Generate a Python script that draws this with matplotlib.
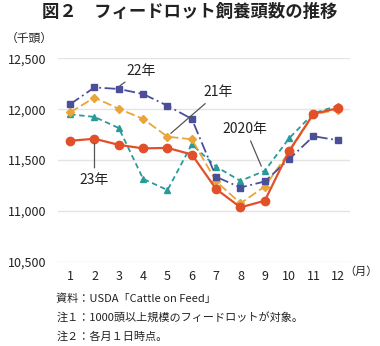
import matplotlib
matplotlib.use("Agg")
import matplotlib.pyplot as plt

plt.rcParams['font.family'] = ['Noto Sans CJK JP', 'DejaVu Sans']

months = list(range(1, 13))
y2020 = [11950, 11925, 11815, 11315, 11205, 11655, 11435, 11295, 11395, 11715, 11960, 12035]
y2021 = [11970, 12115, 12005, 11905, 11730, 11705, 11290, 11075, 11240, 11580, 11950, 11995]
y2022 = [12050, 12215, 12200, 12150, 12035, 11905, 11335, 11230, 11290, 11510, 11735, 11695]
y2023 = [11690, 11710, 11650, 11615, 11620, 11555, 11215, 11035, 11100, 11590, 11955, 12010]
yticks = [10500, 11000, 11500, 12000, 12500]

fig = plt.figure(figsize=(3.8, 3.46), dpi=100)
ax = fig.add_axes([0.1526, 0.2436, 0.7684, 0.5874])

ax.plot(months, y2020, color="#2a9a98", linestyle=(0, (3, 2)), marker="^",
        markersize=5, linewidth=1.3)
ax.plot(months, y2021, color="#e9a53a", linestyle=(0, (5, 2)), marker="D",
        markersize=4.5, linewidth=1.3)
ax.plot(months, y2022, color="#4b4f99", linestyle=(0, (6, 2, 1, 2)), marker="s",
        markersize=5, linewidth=1.3)
ax.plot(months, y2023, color="#e2502a", linestyle="-", marker="o",
        markersize=6, linewidth=1.6)

ax.set_xlim(0.5, 12.5)
ax.set_ylim(10500, 12500)
ax.set_xticks(months)
ax.set_yticks(yticks)
ax.set_yticklabels([f"{v:,}" for v in yticks])
ax.tick_params(length=0, labelsize=9, colors="#222222")
ax.tick_params(axis="y", pad=8)
ax.tick_params(axis="x", pad=6)
ax.grid(axis="y", color="#e4e4e4", linewidth=1)
ax.set_axisbelow(True)
for s in ax.spines.values():
    s.set_visible(False)

kw = dict(arrowprops=dict(arrowstyle="-", color="#555555", lw=0.9),
          fontsize=10, color="#222222")
ax.annotate("22年", xy=(2.95, 12215), xytext=(3.9, 12380),
            ha="center", va="center", **kw)
ax.annotate("21年", xy=(5.05, 11745), xytext=(7.1, 12170),
            ha="center", va="center", **kw)
ax.annotate("23年", xy=(2, 11690), xytext=(2, 11300),
            ha="center", va="center", **kw)
ax.annotate("2020年", xy=(8.9, 11415), xytext=(8.2, 11810),
            ha="center", va="center", **kw)

fig.text(0.5, 0.965, "図２　フィードロット飼養頭数の推移", ha="center", va="center",
         fontsize=12.5, fontweight="bold", color="#222222")
fig.text(0.015, 0.89, "（千頭）", ha="left", va="center", fontsize=8.5, color="#222222")
fig.text(0.995, 0.215, "（月）", ha="right", va="center", fontsize=8, color="#222222")
fig.text(0.148, 0.138, "資料：USDA「Cattle on Feed」", ha="left", va="center",
         fontsize=8, color="#222222")
fig.text(0.148, 0.082, "注１：1000頭以上規模のフィードロットが対象。", ha="left", va="center",
         fontsize=8, color="#222222")
fig.text(0.148, 0.028, "注２：各月１日時点。", ha="left", va="center",
         fontsize=8, color="#222222")

fig.savefig("out.png", dpi=100)
